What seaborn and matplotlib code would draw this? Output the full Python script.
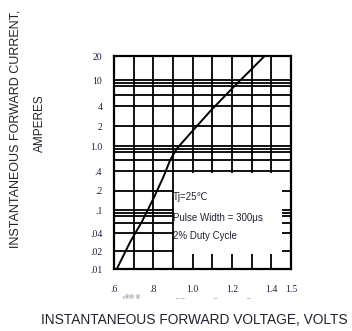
import matplotlib
matplotlib.use("Agg")
import matplotlib.pyplot as plt
import seaborn as sns
import pandas as pd
import numpy as np
from matplotlib.patches import Rectangle

# ---- data ----
voltage = [0.614, 0.682, 0.741, 0.800, 0.851, 0.885, 0.919, 0.987, 1.093, 1.208, 1.293, 1.366]
current = [0.010, 0.0287, 0.0627, 0.150, 0.328, 0.598, 0.908, 1.54, 3.47, 7.83, 13.2, 20.0]

x_ticks = [0.6, 0.8, 1.0, 1.2, 1.4, 1.5]
x_tick_labels = [".6", ".8", "1.0", "1.2", "1.4", "1.5"]
y_ticks = [0.01, 0.02, 0.04, 0.1, 0.2, 0.4, 1.0, 2, 4, 10, 20]
y_tick_labels = [".01", ".02", ".04", ".1", ".2", ".4", "1.0", "2", "4", "10", "20"]

x_grid = [0.7, 0.8, 0.9, 1.0, 1.1, 1.2, 1.3, 1.4]
y_grid = [10, 9, 8, 6, 4, 2, 1.0, 0.9, 0.8, 0.6, 0.4, 0.2, 0.1, 0.09, 0.08, 0.06, 0.04, 0.02]

notes = ["Tj=25\u2103", "Pulse Width = 300\u03bcs", "2% Duty Cycle"]
note_y = [0.16, 0.074, 0.0362]

# the printed log paper has slightly uneven decades
decade_logs = [-6.0, -2.0, -1.0, 0.0, 1.0, np.log10(20.0), 4.0]
decade_pos = [-236.0, 0.0, 59.0, 123.0, 189.0, 213.0, 391.0]


def fwd(y):
    y = np.asarray(y, dtype=float)
    with np.errstate(divide="ignore", invalid="ignore"):
        ly = np.log10(np.where(y > 0, y, 1e-6))
    return np.interp(ly, decade_logs, decade_pos)


def inv(v):
    v = np.asarray(v, dtype=float)
    return 10 ** np.interp(v, decade_pos, decade_logs)


df = pd.DataFrame({"V": voltage, "I": current})

sns.set_style("white")
plt.rcParams["font.family"] = ["Liberation Sans", "DejaVu Sans"]

fig = plt.figure(figsize=(3.52, 3.31), dpi=100)
ax = fig.add_axes([0.3239, 0.1873, 0.5028, 0.6435])
ax.set_yscale("function", functions=(fwd, inv))
ax.set_xlim(0.6, 1.5)
ax.set_ylim(0.01, 20)

for gx in x_grid:
    ax.axvline(gx, color="black", lw=1.3, zorder=1)
for gy in y_grid:
    ax.axhline(gy, color="black", lw=1.3, zorder=1)

# white legend box that hides the grid in the lower right
ax.add_patch(Rectangle((0.905, 0.018), 1.455 - 0.905, 0.385 - 0.018,
                       facecolor="white", edgecolor="none", zorder=1.5))

sns.lineplot(data=df, x="V", y="I", ax=ax, color="black", lw=1.4, zorder=3)

for t, yv in zip(notes, note_y):
    ax.text(0.9, yv, t, fontsize=7, color="#222233", va="center", ha="left", zorder=4)

ax.set_xticks(x_ticks)
ax.set_xticklabels(x_tick_labels, fontfamily="Liberation Serif", fontsize=7, color="#222244")
ax.set_yticks(y_ticks)
ax.set_yticklabels(y_tick_labels, fontfamily="Liberation Serif", fontsize=7, color="#222244")
ax.minorticks_off()
ax.tick_params(axis="both", length=0)
ax.tick_params(axis="y", pad=8.4)
ax.tick_params(axis="x", pad=11.2)
ax.set_xlabel("")
ax.set_ylabel("")

for s in ax.spines.values():
    s.set_visible(True)
    s.set_color("black")
    s.set_linewidth(1.6)

fig.text(0.043, 0.61, "INSTANTANEOUS FORWARD CURRENT,", rotation=90, fontsize=9,
         ha="center", va="center", color="#22222e")
fig.text(0.114, 0.627, "AMPERES", rotation=90, fontsize=8.5,
         ha="center", va="center", color="#22222e")
fig.text(0.551, 0.033, "INSTANTANEOUS FORWARD VOLTAGE, VOLTS", fontsize=9.9,
         ha="center", va="center", color="#22222e")

# faint stray marks printed under the voltage axis
fig.text(0.375, 0.100, "\u0131\u00ae\u00ae \u00ae", fontsize=4.5, ha="center", va="center", color="#555566")
for xs, s in zip([0.513, 0.613, 0.707], ["\u2013 \u2013", "\u2013", "\u2013"]):
    fig.text(xs, 0.098, s, fontsize=4.5, ha="center", va="center", color="#555566")

fig.savefig("out.png", dpi=100, facecolor="white")
